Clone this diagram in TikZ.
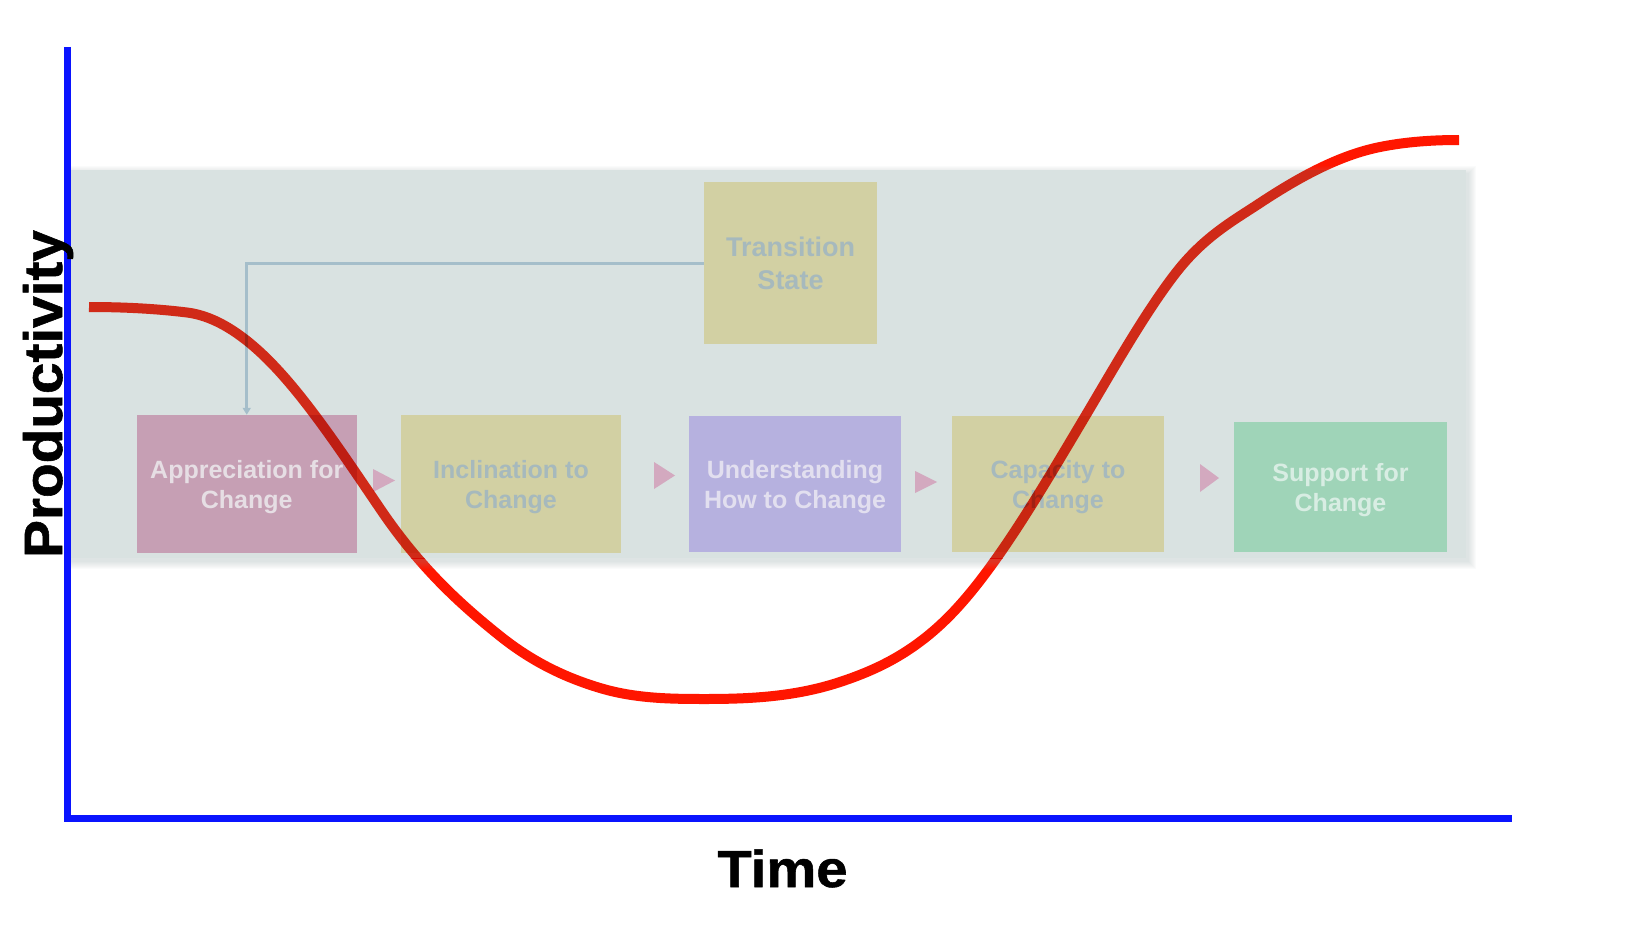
\documentclass[tikz,border=0pt]{standalone}
\usepackage{fontspec}
\setmainfont{Liberation Sans}
\newfontfamily\titlefont[FakeBold=1.0]{Liberation Sans Bold}
\usetikzlibrary{arrows.meta}
\definecolor{axisblue}{RGB}{10,20,255}
\definecolor{curvered}{RGB}{255,22,0}
\definecolor{curvein}{RGB}{245,48,28}
\definecolor{bandgray}{RGB}{217,226,225}
\definecolor{shadowgray}{RGB}{140,158,158}
\definecolor{pinkbox}{RGB}{198,159,180}
\definecolor{khakibox}{RGB}{210,208,163}
\definecolor{lavbox}{RGB}{182,177,223}
\definecolor{greenbox}{RGB}{159,212,184}
\definecolor{pinktext}{RGB}{230,222,228}
\definecolor{lavtext}{RGB}{226,223,239}
\definecolor{greentext}{RGB}{216,237,227}
\definecolor{greytext}{RGB}{166,185,189}
\definecolor{linkblue}{RGB}{165,190,202}
\definecolor{tripink}{RGB}{211,169,191}
\tikzset{
  stagebox/.style={draw=none, inner sep=0pt, align=center, text depth=0pt,
    font=\fontsize{25}{30}\selectfont\bfseries},
  transbox/.style={draw=none, inner sep=0pt, align=center,
    font=\fontsize{27}{33}\selectfont\bfseries},
  link/.style={draw=linkblue, line width=3pt,
    -{Triangle[width=8pt,length=7pt]}},
  tri/.style={fill=tripink},
  axisline/.style={draw=axisblue, line width=7pt},
  curveline/.style={line width=10pt, line cap=butt, line join=round},
  bigtitle/.style={inner sep=0pt, text=black}
}
\newcommand\prodcurve{(89,307)
  .. controls (121.67,307) and (154.33,308.5) .. (187,312.5)
  .. controls (211.33,315.5) and (235.67,329.61) .. (260,352)
  .. controls (300.33,389.1) and (340.67,450.71) .. (381,510)
  .. controls (420.67,568.31) and (460.33,604.27) .. (500,636)
  .. controls (533.33,662.67) and (566.67,678) .. (600,688)
  .. controls (635,698.5) and (670,699) .. (705,699)
  .. controls (750,699) and (795,696.85) .. (840,682)
  .. controls (879.33,669.02) and (918.67,650.27) .. (958,607)
  .. controls (999.67,561.17) and (1041.33,490) .. (1083,420)
  .. controls (1113.67,368.48) and (1144.33,313.87) .. (1175,274)
  .. controls (1203.33,237.17) and (1231.67,221.7) .. (1260,203)
  .. controls (1300,176.6) and (1340,155) .. (1380,147)
  .. controls (1406.33,141.73) and (1432.67,140) .. (1459,140)}
\begin{document}
\begin{tikzpicture}[x=1pt,y=-1pt]
\useasboundingbox[fill=white] (0,0) rectangle (1625,947);
% named reference points
\coordinate (ytop) at (67,47);
\coordinate (yfoot) at (67,821);
\coordinate (xstart) at (64,818);
\coordinate (xend) at (1512,818);
% the productivity curve, first pass (seen outside the band)
\draw[curveline, draw=curvered] \prodcurve;
% band shadow and band
\foreach \i in {0,1,...,7}{
  \fill[shadowgray, opacity=0.035] (71-\i,173-\i) rectangle (1469+\i,562+\i);
}
\fill[bandgray] (68,170) rectangle (1466,558);
% boxes
\node[transbox, fill=khakibox, text=greytext, minimum width=173pt, minimum height=162pt]
  (ts) at (790.5,263) {Transition\\State};
\node[stagebox, fill=pinkbox, text=pinktext, minimum width=220pt, minimum height=138pt]
  (b1) at (246.75,484) {Appreciation for\\Change};
\node[stagebox, fill=khakibox, text=greytext, minimum width=220pt, minimum height=138pt]
  (b2) at (511,484) {Inclination to\\Change};
\node[stagebox, fill=lavbox, text=lavtext, minimum width=212pt, minimum height=136pt]
  (b3) at (795,484) {Understanding\\How to Change};
\node[stagebox, fill=khakibox, text=greytext, minimum width=212pt, minimum height=136pt]
  (b4) at (1058,484) {Capacity to\\Change};
\node[stagebox, fill=greenbox, text=greentext, minimum width=213pt, minimum height=130pt]
  (b5) at (1340.5,487) {Support for\\Change};
% connector
\draw[link] (ts.west) -| (b1.north);
% small triangles between stages
\fill[tri] (373,469) -- (395,480.5) -- (373,492) -- cycle;
\fill[tri] (654,462) -- (675,475.5) -- (654,489) -- cycle;
\fill[tri] (915,471) -- (937,482) -- (915,493) -- cycle;
\fill[tri] (1200,464) -- (1219,478) -- (1200,492) -- cycle;
% curve, second pass inside the band, multiplied over the band
\begin{scope}
  \clip (68,170) rectangle (1466,558);
  \begin{scope}[blend mode=multiply]
    \draw[curveline, draw=curvein] \prodcurve;
  \end{scope}
\end{scope}
% axes
\draw[axisline] (ytop) -- (yfoot);
\draw[axisline] (xstart) -- (xend);
% axis titles
\node[bigtitle, rotate=90, anchor=base, font=\fontsize{54}{60}\selectfont\titlefont]
  (ylab) at (62,394) {\scalebox{1.05}[1]{Productivity}};
\node[bigtitle, anchor=base, font=\fontsize{52}{58}\selectfont\titlefont]
  (xlab) at (782.5,887) {\scalebox{1.08}[1]{Time}};
\end{tikzpicture}
\end{document}
